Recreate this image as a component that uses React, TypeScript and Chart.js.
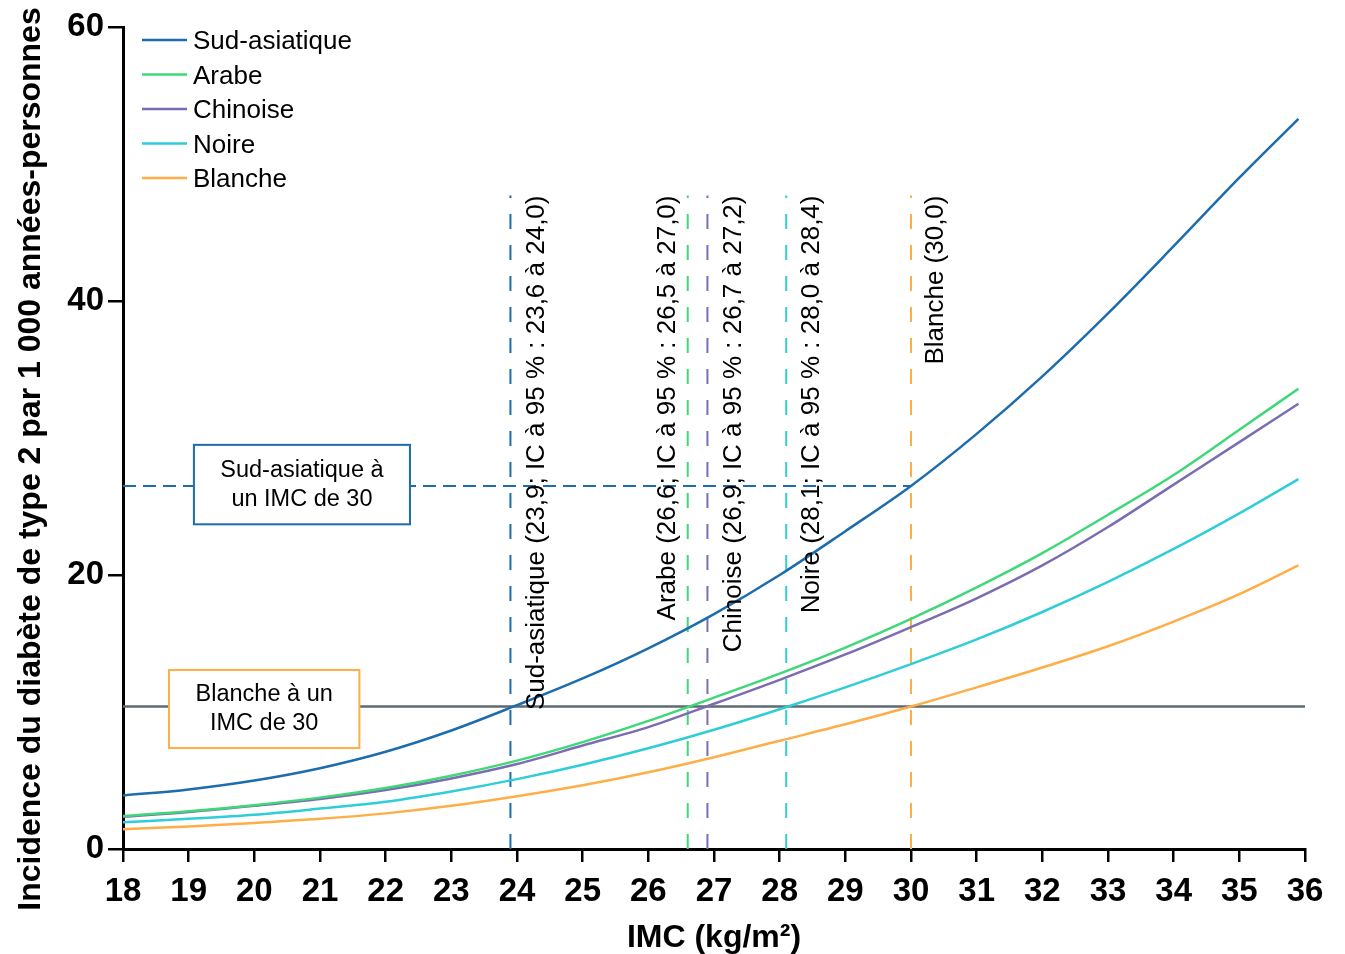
import { useEffect, useRef } from "react";
import { Chart, registerables } from "chart.js";

Chart.register(...registerables);

// ---------- data ----------
const BMI = [18, 19, 20, 21, 22, 23, 24, 25, 26, 27, 28, 29, 30, 31, 32, 33, 34, 35, 35.9];
const SOUTH_ASIAN = [3.9, 4.35, 5.0, 5.9, 7.1, 8.65, 10.5, 12.45, 14.65, 17.15, 20.0, 23.2, 26.5, 30.3, 34.5, 39.1, 44.0, 49.0, 53.3];
const ARAB = [2.4, 2.75, 3.2, 3.75, 4.45, 5.35, 6.45, 7.8, 9.35, 11.05, 12.8, 14.7, 16.8, 19.1, 21.6, 24.4, 27.3, 30.6, 33.6];
const CHINESE = [2.35, 2.7, 3.15, 3.65, 4.3, 5.15, 6.2, 7.55, 8.9, 10.6, 12.35, 14.2, 16.2, 18.3, 20.7, 23.5, 26.6, 29.7, 32.5];
const BLACK = [1.95, 2.2, 2.5, 2.95, 3.45, 4.2, 5.1, 6.15, 7.35, 8.7, 10.2, 11.8, 13.5, 15.3, 17.3, 19.5, 21.9, 24.5, 27.0];
const WHITE = [1.45, 1.65, 1.9, 2.2, 2.6, 3.15, 3.85, 4.65, 5.6, 6.7, 7.9, 9.1, 10.4, 11.8, 13.25, 14.8, 16.6, 18.6, 20.7];

const SERIES_LABELS = ["Sud-asiatique", "Arabe", "Chinoise", "Noire", "Blanche"];
const SERIES_VALUES = [SOUTH_ASIAN, ARAB, CHINESE, BLACK, WHITE];
const SERIES_COLORS = ["#1D6CAD", "#3FD878", "#7C6CB2", "#2FCDD6", "#FDAE47"];

const CUTOFFS = [23.9, 26.6, 26.9, 28.1, 30.0];
const CUTOFF_LABELS = [
  "Sud-asiatique (23,9; IC à 95 % : 23,6 à 24,0)",
  "Arabe (26,6; IC à 95 % : 26,5 à 27,0)",
  "Chinoise (26,9; IC à 95 % : 26,7 à 27,2)",
  "Noire (28,1; IC à 95 % : 28,0 à 28,4)",
  "Blanche (30,0)",
];
const CUTOFF_TOP = 47.7;
const WHITE_AT_30 = 10.4;
const SOUTH_ASIAN_AT_30 = 26.5;
const REF_BMI = 30;

const X_MIN = 18;
const X_MAX = 36;
const Y_MIN = 0;
const Y_MAX = 60;
const X_STEP = 1;
const Y_STEP = 20;

const X_TITLE = "IMC (kg/m²)";
const Y_TITLE = "Incidence du diabète de type 2 par 1 000 années-personnes";
const BOX_SA_LINES = ["Sud-asiatique à", "un IMC de 30"];
const BOX_WHITE_LINES = ["Blanche à un", "IMC de 30"];

// ---------- styles ----------
const FONT = "'Liberation Sans', Arial, sans-serif";
const GREY = "#5D6A71";
const LABEL_OFFSETS = [34, -13, 33.5, 32.5, 31.5];

const overlayPlugin = {
  id: "overlay",
  afterDatasetsDraw(chart: any) {
    const { ctx, chartArea } = chart;
    const xs = chart.scales.x;
    const ys = chart.scales.y;
    ctx.save();

    // rotated cutoff labels
    ctx.font = `26px ${FONT}`;
    ctx.fillStyle = "#000";
    ctx.textAlign = "right";
    ctx.textBaseline = "alphabetic";
    CUTOFFS.forEach((c, i) => {
      const px = xs.getPixelForValue(c) + LABEL_OFFSETS[i];
      const py = ys.getPixelForValue(CUTOFF_TOP);
      ctx.save();
      ctx.translate(px, py);
      ctx.rotate(-Math.PI / 2);
      ctx.fillText(CUTOFF_LABELS[i], 0, 0);
      ctx.restore();
    });

    // boxes
    const drawBox = (x1: number, x2: number, yTop: number, yBot: number, color: string, lines: string[]) => {
      const l = xs.getPixelForValue(x1);
      const r = xs.getPixelForValue(x2);
      const t = ys.getPixelForValue(yTop);
      const b = ys.getPixelForValue(yBot);
      ctx.fillStyle = "#fff";
      ctx.fillRect(l, t, r - l, b - t);
      ctx.strokeStyle = color;
      ctx.lineWidth = 2;
      ctx.strokeRect(l, t, r - l, b - t);
      ctx.fillStyle = "#000";
      ctx.font = `23.5px ${FONT}`;
      ctx.textAlign = "center";
      ctx.textBaseline = "middle";
      const cx = (l + r) / 2;
      const cy = (t + b) / 2;
      const lh = 29;
      lines.forEach((s, k) => {
        ctx.fillText(s, cx, cy + (k - (lines.length - 1) / 2) * lh);
      });
    };
    drawBox(19.08, 22.37, 29.5, 23.7, SERIES_COLORS[0], BOX_SA_LINES);
    drawBox(18.7, 21.6, 13.07, 7.37, SERIES_COLORS[4], BOX_WHITE_LINES);

    // legend
    ctx.font = `26px ${FONT}`;
    ctx.textAlign = "left";
    ctx.textBaseline = "middle";
    SERIES_LABELS.forEach((lab, i) => {
      const yy = chartArea.top + 13 + i * 34.5;
      const lx = chartArea.left + 19;
      ctx.strokeStyle = SERIES_COLORS[i];
      ctx.lineWidth = 2.5;
      ctx.beginPath();
      ctx.moveTo(lx, yy);
      ctx.lineTo(lx + 45, yy);
      ctx.stroke();
      ctx.fillStyle = "#000";
      ctx.fillText(lab, lx + 51, yy + 2);
    });

    ctx.restore();
  },
  afterDraw(chart: any) {
    const { ctx } = chart;
    ctx.save();
    ctx.font = `bold 32px ${FONT}`;
    ctx.fillStyle = "#000";
    ctx.textAlign = "center";
    ctx.textBaseline = "middle";
    ctx.translate(31, 459);
    ctx.rotate(-Math.PI / 2);
    ctx.fillText(Y_TITLE, 0, 0);
    ctx.restore();
  },
};

export default function App() {
  const ref = useRef<HTMLCanvasElement>(null);
  useEffect(() => {
    const curveSets = SERIES_LABELS.map((label, i) => ({
      label,
      data: BMI.map((b, k) => ({ x: b, y: SERIES_VALUES[i][k] })),
      borderColor: SERIES_COLORS[i],
      borderWidth: 2.5,
      pointRadius: 0,
      fill: false,
      cubicInterpolationMode: "monotone" as const,
    }));
    const cutoffSets = CUTOFFS.map((c, i) => ({
      label: "cutoff-" + i,
      data: [
        { x: c, y: Y_MIN },
        { x: c, y: CUTOFF_TOP },
      ],
      borderColor: SERIES_COLORS[i],
      borderWidth: 2,
      borderDash: [15, 16],
      pointRadius: 0,
      fill: false,
    }));
    const refSets = [
      {
        label: "ref-white",
        data: [
          { x: X_MIN, y: WHITE_AT_30 },
          { x: X_MAX, y: WHITE_AT_30 },
        ],
        borderColor: GREY,
        borderWidth: 2.5,
        pointRadius: 0,
        fill: false,
      },
      {
        label: "ref-sa",
        data: [
          { x: X_MIN, y: SOUTH_ASIAN_AT_30 },
          { x: REF_BMI, y: SOUTH_ASIAN_AT_30 },
        ],
        borderColor: SERIES_COLORS[0],
        borderWidth: 2,
        borderDash: [13, 7],
        pointRadius: 0,
        fill: false,
      },
    ];

    const tickFont = { family: FONT, size: 33, weight: "bold" as const };
    const chart = new Chart(ref.current!, {
      type: "line",
      data: { datasets: [...curveSets, ...cutoffSets, ...refSets] as any },
      options: {
        animation: false,
        responsive: false,
        events: [],
        layout: { padding: { top: 27, right: 40, left: 0, bottom: 0 } },
        plugins: { legend: { display: false }, tooltip: { enabled: false } },
        scales: {
          x: {
            type: "linear",
            min: X_MIN,
            max: X_MAX,
            afterFit: (s: any) => {
              s.height = 105;
            },
            border: { display: true, color: "#000", width: 3 },
            grid: { display: true, drawOnChartArea: false, drawTicks: true, tickLength: 13, color: "#000", lineWidth: 2.5 },
            ticks: { stepSize: X_STEP, autoSkip: false, maxRotation: 0, color: "#000", font: tickFont, padding: 10 },
            title: { display: true, text: X_TITLE, color: "#000", font: { family: FONT, size: 32, weight: "bold" }, padding: { top: 0, bottom: -3 } },
          },
          y: {
            type: "linear",
            min: Y_MIN,
            max: Y_MAX,
            afterFit: (s: any) => {
              s.width = 123;
            },
            border: { display: true, color: "#000", width: 3 },
            grid: { display: true, drawOnChartArea: false, drawTicks: true, tickLength: 15, color: "#000", lineWidth: 2.5 },
            ticks: { stepSize: Y_STEP, color: "#000", font: tickFont, padding: 4 },
          },
        },
      } as any,
      plugins: [overlayPlugin],
    });
    return () => chart.destroy();
  }, []);
  return (
    <div style={{ position: "absolute", left: 0, top: 0, width: 1345, height: 954, background: "#fff" }}>
      <canvas ref={ref} width={1345} height={954} style={{ display: "block", width: 1345, height: 954 }} />
    </div>
  );
}
